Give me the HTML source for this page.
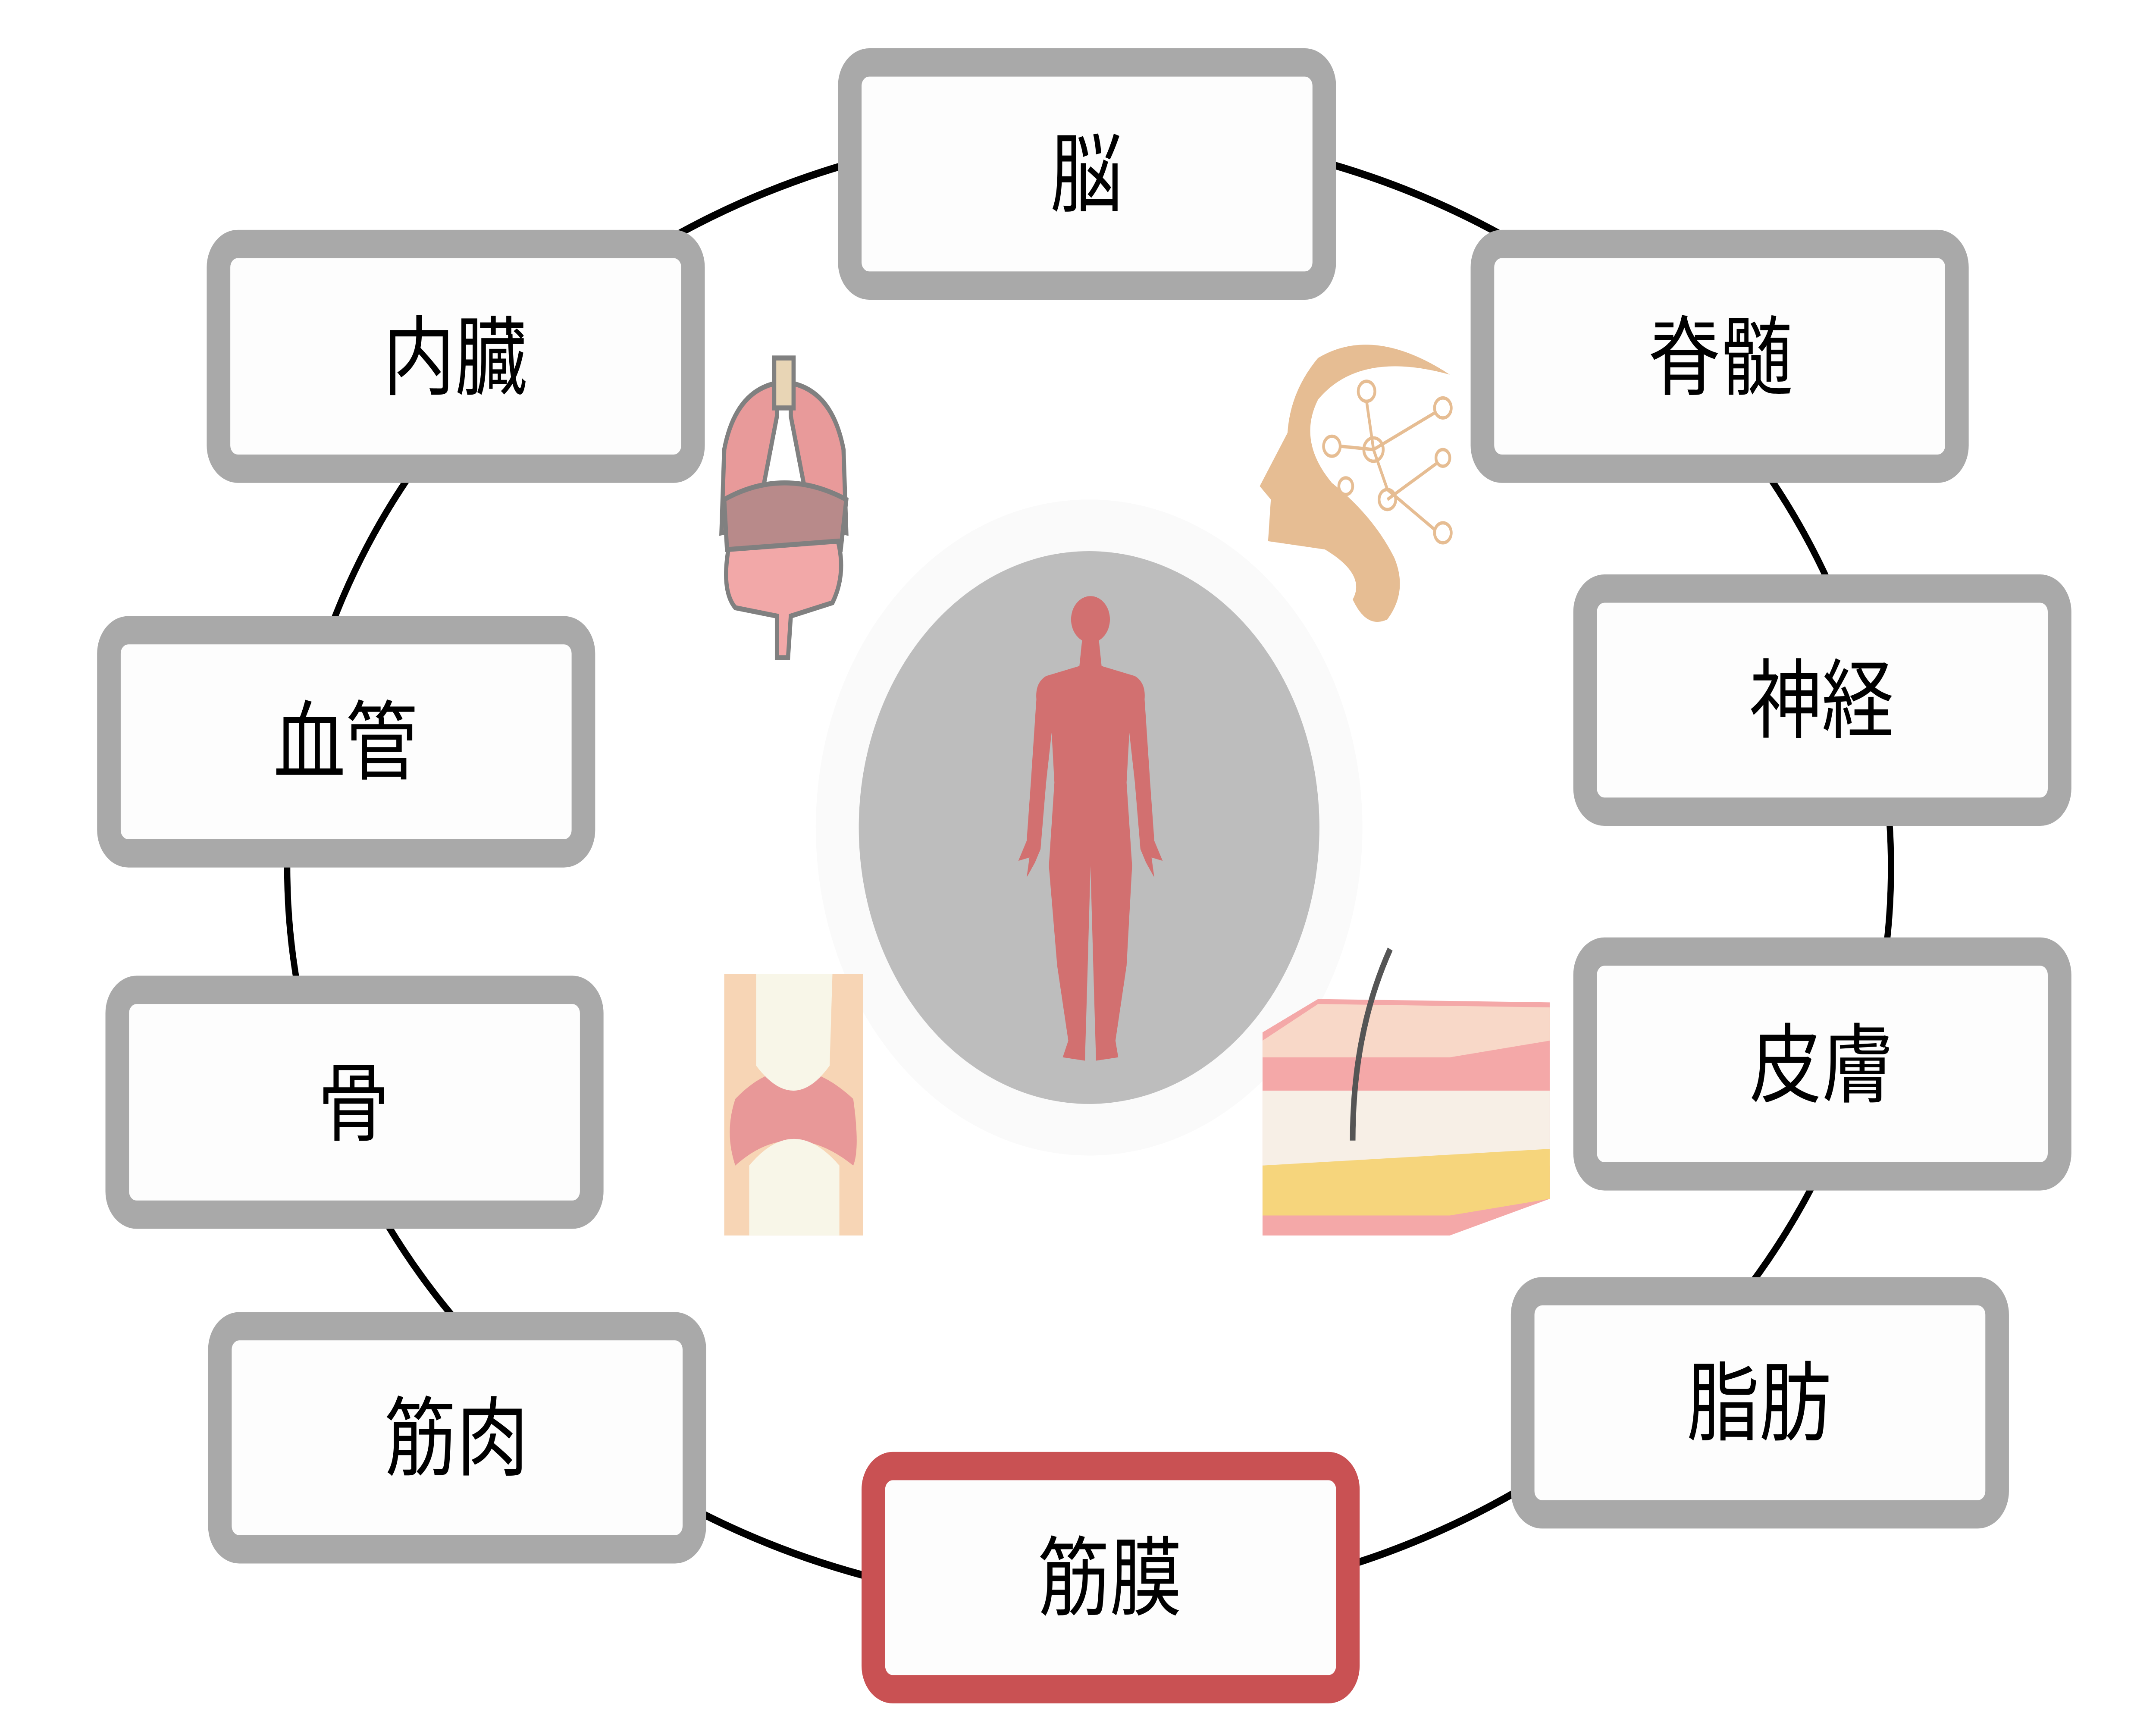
<!DOCTYPE html>
<html><head><meta charset="utf-8"><style>html,body{margin:0;padding:0;background:#fff;width:100vw;height:100vh;overflow:hidden}svg{display:block;position:absolute;left:0;top:0;width:100vw;height:100vh}</style></head>
<body>
<svg viewBox="0 0 1554 1036" preserveAspectRatio="none" xmlns="http://www.w3.org/2000/svg">
<rect width="1554" height="1036" fill="#fff"/>
<ellipse cx="785" cy="521" rx="578" ry="443" fill="none" stroke="#000" stroke-width="4.5"/>
<circle cx="785" cy="497" r="197" fill="#fafafa"/>
<circle cx="785" cy="497" r="166" fill="#bdbdbd"/>
<circle cx="786" cy="372" r="14" fill="#d27070"/>
<path d="M780,384 L792,384 L794,400 L818,406 Q826,410 825,420 L829,470 L832,505 L838,517 L830,515 L832,527 L826,518 L822,510 L818,470 L814,440 L812,470 L816,520 L812,580 L804,625 L806,635 L790,637 L788,580 L786,520 L784,580 L782,637 L766,635 L770,625 L762,580 L756,520 L760,470 L758,440 L754,470 L750,510 L746,518 L740,527 L742,515 L734,517 L740,505 L743,470 L747,420 Q746,410 754,406 L778,400 Z" fill="#d27070"/>
<g stroke="#808080" stroke-width="3">
<path d="M560,230 Q530,235 522,270 L520,320 L545,315 L560,250 Z" fill="#e89a9a"/>
<path d="M570,230 Q600,235 608,270 L610,320 L585,315 L570,250 Z" fill="#e89a9a"/>
<rect x="558" y="215" width="14" height="30" fill="#e8d5b5"/>
<path d="M522,300 Q565,280 610,300 L606,330 L524,330 Z" fill="#b88a8a"/>
<path d="M525,330 Q520,355 530,365 L560,370 L560,395 L568,395 L570,370 L600,362 Q610,345 604,325 Z" fill="#f2a8a8"/>
</g>
<path d="M1045,225 Q990,195 950,215 Q930,235 928,260 L908,292 L916,300 L914,325 L955,330 Q985,345 975,360 Q985,378 1000,372 Q1015,355 1005,335 Q990,310 960,290 Q935,265 950,240 Q980,210 1045,225 Z" fill="#e6bd93"/>
<g fill="none" stroke="#e6bd93" stroke-width="2"><circle cx="990" cy="270" r="7"/><circle cx="985" cy="235" r="6"/><circle cx="1040" cy="245" r="6"/><circle cx="960" cy="268" r="6"/><circle cx="1000" cy="300" r="6"/><circle cx="1040" cy="320" r="6"/><circle cx="1040" cy="275" r="5"/><circle cx="970" cy="292" r="5"/><path d="M990,270 L985,241 M990,270 L1034,248 M990,270 L966,268 M990,270 L1000,294 L1034,318 M1000,300 L1036,278"/></g>
<rect x="522" y="585" width="100" height="157" fill="#f7d5b5"/>
<path d="M530,660 Q570,625 615,660 Q620,690 615,700 Q570,670 530,700 Q522,680 530,660 Z" fill="#e89898"/>
<path d="M545,585 L600,585 L598,640 Q572,670 545,640 Z" fill="#f8f6e8"/>
<path d="M540,742 L540,700 Q572,668 605,700 L605,742 Z" fill="#f8f6e8"/>
<path d="M910,620 L950,600 L1117,602 L1117,720 L1045,742 L910,742 Z" fill="#f4a8a8"/>
<path d="M910,625 L950,603 L1117,605 L1117,625 L1045,635 L910,635 Z" fill="#f8d8c8"/>
<rect x="910" y="655" width="207" height="45" fill="#f7efe6"/>
<path d="M910,700 L1117,690 L1117,720 L1045,730 L910,730 Z" fill="#f6d57c"/>
<path d="M975,685 Q975,620 1002,570" stroke="#555" stroke-width="4" fill="none"/>
<g fill="#fdfdfd" stroke="#a9a9a9" stroke-width="17">
<rect x="612.5" y="37.5" width="342" height="134" rx="14"/>
<rect x="157.5" y="146.5" width="342" height="135" rx="14"/>
<rect x="1068.5" y="146.5" width="342" height="135" rx="14"/>
<rect x="78.5" y="378.5" width="342" height="134" rx="14"/>
<rect x="1142.5" y="353.5" width="342" height="134" rx="14"/>
<rect x="84.5" y="594.5" width="342" height="135" rx="14"/>
<rect x="1142.5" y="571.5" width="342" height="135" rx="14"/>
<rect x="158.5" y="796.5" width="342" height="134" rx="14"/>
<rect x="1097.5" y="775.5" width="342" height="134" rx="14"/>
<rect x="629.5" y="880.5" width="342" height="134" rx="14" stroke="#c95153"/>
</g>
<g font-family="'Liberation Sans','Noto Sans CJK JP',sans-serif" font-size="52" text-anchor="middle" fill="#000">
<text x="783" y="123">脳</text>
<text x="328" y="233">内臓</text>
<text x="1240" y="233">脊髄</text>
<text x="249" y="464">血管</text>
<text x="1313" y="439">神経</text>
<text x="255" y="681">骨</text>
<text x="1313" y="658">皮膚</text>
<text x="329" y="882">筋肉</text>
<text x="1268" y="861">脂肪</text>
<text x="800" y="966">筋膜</text>
</g>
</svg>
</body></html>
